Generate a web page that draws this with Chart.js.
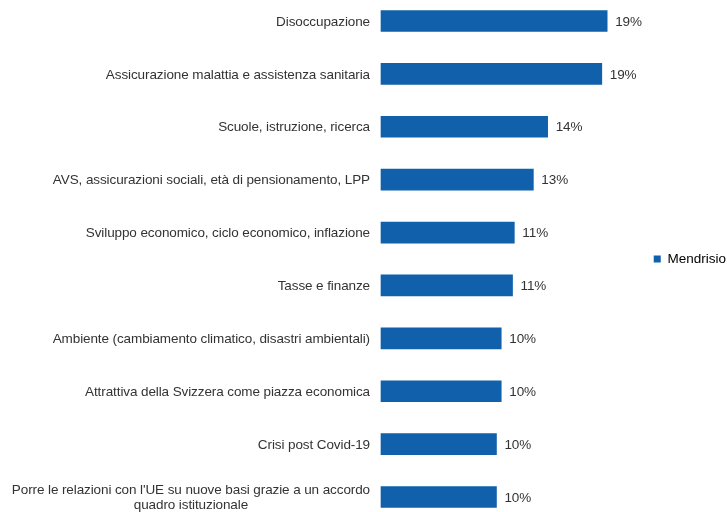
<!DOCTYPE html>
<html>
<head>
<meta charset="utf-8">
<script src="https://cdn.jsdelivr.net/npm/chart.js@4"></script>
<style>
  html, body { margin: 0; padding: 0; background: #fff; }
  #wrap { width: 727px; height: 512px; position: relative; }
</style>
</head>
<body>
<div id="wrap"><canvas id="topicsChart"></canvas></div>
<script>
// categories, top to bottom
const categories = [
  'Disoccupazione',
  'Assicurazione malattia e assistenza sanitaria',
  'Scuole, istruzione, ricerca',
  'AVS, assicurazioni sociali, età di pensionamento, LPP',
  'Sviluppo economico, ciclo economico, inflazione',
  'Tasse e finanze',
  'Ambiente (cambiamento climatico, disastri ambientali)',
  'Attrattiva della Svizzera come piazza economica',
  'Crisi post Covid-19',
  ['Porre le relazioni con l\'UE su nuove basi grazie a un accordo', 'quadro istituzionale']
];

// share of mentions (%), Mendrisio
const mendrisio = [19.0, 18.55, 14.0, 12.8, 11.2, 11.05, 10.1, 10.1, 9.7, 9.7];

const seriesName = 'Mendrisio';
const barColor = '#1060ab';
const textColor = '#333333';
const labelFont = '13.5px "Liberation Sans", Arial, sans-serif';

// draws the category labels (multi-line ones centred on each other) and value labels
const labelsPlugin = {
  id: 'labelsPlugin',
  afterDatasetsDraw(chart) {
    const ctx = chart.ctx;
    const yScale = chart.scales.y;
    const meta = chart.getDatasetMeta(0);
    const right = chart.chartArea.left - 11;

    ctx.save();
    ctx.font = labelFont;
    ctx.fillStyle = textColor;
    ctx.textBaseline = 'middle';
    ctx.letterSpacing = '-0.1px';

    categories.forEach((cat, i) => {
      const y = yScale.getPixelForValue(i);
      const lines = Array.isArray(cat) ? cat : [cat];
      const widths = lines.map(l => ctx.measureText(l).width);
      const maxW = Math.max(...widths);
      const lineH = 15;
      const y0 = y - (lines.length - 1) * lineH / 2 + 1;
      lines.forEach((line, k) => {
        ctx.textAlign = 'center';
        ctx.fillText(line, right - maxW / 2, y0 + k * lineH);
      });
    });

    ctx.textAlign = 'left';
    meta.data.forEach((bar, i) => {
      ctx.fillText(Math.round(mendrisio[i]) + '%', bar.x + 8, bar.y + 1);
    });
    ctx.restore();
  }
};

const ctx = document.getElementById('topicsChart').getContext('2d');
window.topicsChart = new Chart(ctx, {
  type: 'bar',
  data: {
    labels: categories.map(c => Array.isArray(c) ? c.join(' ') : c),
    datasets: [
      {
        label: seriesName,
        data: mendrisio,
        backgroundColor: barColor,
        borderWidth: 0,
        barThickness: 21,
        clip: false
      }
    ]
  },
  options: {
    indexAxis: 'y',
    responsive: true,
    maintainAspectRatio: false,
    animation: false,
    layout: {
      padding: { left: 381, top: 21, bottom: 15, right: -9 }
    },
    plugins: {
      legend: {
        position: 'right',
        labels: {
          boxWidth: 7,
          boxHeight: 7,
          padding: 3,
          color: '#000',
          font: { family: '"Liberation Sans", Arial, sans-serif', size: 13.5 }
        }
      },
      tooltip: { enabled: false }
    },
    scales: {
      x: {
        display: false,
        min: 0,
        max: 22.66
      },
      y: {
        display: false,
        offset: false
      }
    }
  },
  plugins: [labelsPlugin]
});
</script>
</body>
</html>
